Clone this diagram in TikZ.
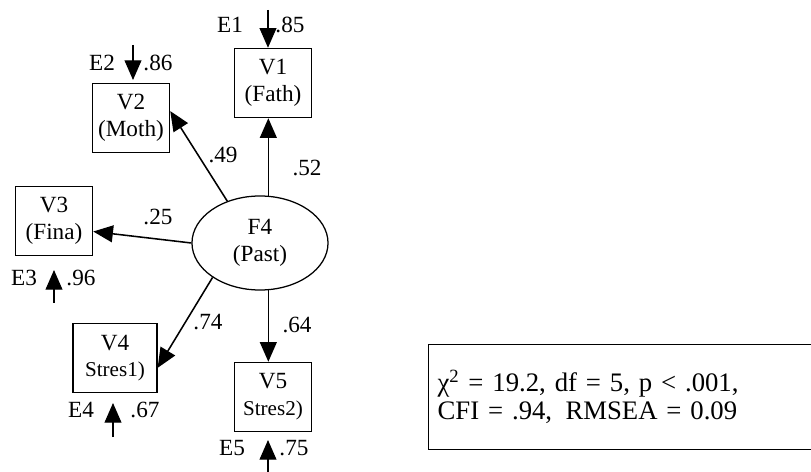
\documentclass[tikz,border=0pt]{standalone}
\usepackage{fontspec}
\setmainfont{Liberation Serif}
\usetikzlibrary{shapes.geometric,arrows.meta}

\begin{document}
\begin{tikzpicture}[x=0.025cm, y=-0.025cm,
		every node/.style={font=\fontsize{16.5}{19}\selectfont},
		var/.style={draw, line width=0.9pt, minimum width=1.93cm, minimum height=1.73cm, align=center, inner sep=0pt},
		fac/.style={draw, ellipse, line width=0.9pt, minimum width=3.4cm, minimum height=2.35cm, align=center, inner sep=0pt},
		load/.style={-{Triangle[length=14pt,width=12pt]}, line width=1.1pt},
		err/.style={-{Triangle[length=14pt,width=12pt]}, line width=0.9pt}]
	\useasboundingbox (0,0) rectangle (811,472);
	
	% Observed variables
	\node[var] (v1) at (273,83) {V1\\(Fath)};
	\node[var] (v2) at (131,118) {V2\\(Moth)};
	\node[var] (v3) at (54,221) {V3\\(Fina)};
	\node[var, minimum width=2.1cm] (v4) at (115,358) {V4\\{\fontsize{15}{19}\selectfont Stres1)}};
	\node[var] (v5) at (273,397) {V5\\{\fontsize{15}{19}\selectfont Stres2)}};
	
	% Factor
	\node[fac] (f4) at (260,243) {F4\\(Past)};
	
	% Loadings
	\draw[load] (f4.80) -- (f4.80 |- v1.south);
	\draw[load] (f4.128) -- (v2.10);
	\draw[load] (f4.west) -- (v3.-15);
	\draw[load] (f4.216) -- (v4.-13);
	\draw[load] (f4.-80) -- (f4.-80 |- v5.north);
	\node (l1) at (307,168) {.52};
	\node (l2) at (223,155) {.49};
	\node (l3) at (158,217) {.25};
	\node (l4) at (208,322) {.74};
	\node (l5) at (297,325) {.64};
	
	% Errors
	\coordinate (e1) at (268,10);
	\coordinate (e2) at (133,45);
	\coordinate (e2h) at (133,80);
	\coordinate (e3) at (54,303);
	\coordinate (e3h) at (54,270);
	\coordinate (e4) at (113,437);
	\coordinate (e4h) at (113,403);
	\coordinate (e5) at (268,472);
	\coordinate (e5h) at (268,440);
	\draw[err] (e1) -- (e1 |- v1.north);
	\draw[err] (e2) -- (e2h);
	\draw[err] (e3) -- (e3h);
	\draw[err] (e4) -- (e4h);
	\draw[err] (e5) -- (e5h);
	\node (le1) at (230,25) {E1};
	\node (re1) at (290,25) {.85};
	\node (le2) at (102,63) {E2};
	\node (re2) at (158,63) {.86};
	\node (le3) at (24,278) {E3};
	\node (re3) at (81,278) {.96};
	\node (le4) at (81,410) {E4};
	\node (re4) at (145,410) {.67};
	\node (le5) at (232,448) {E5};
	\node (re5) at (294,448) {.75};
	
	% Fit
	\node[draw, line width=0.9pt, anchor=west, minimum height=2.63cm, text width=9.6cm, inner sep=0.225cm, align=left, font=\fontsize{19}{20}\selectfont] (fit) at (428,397) {χ\textsuperscript{2} = 19.2, df = 5, p < .001,\\CFI = .94,\enspace RMSEA = 0.09};
\end{tikzpicture}
\end{document}
